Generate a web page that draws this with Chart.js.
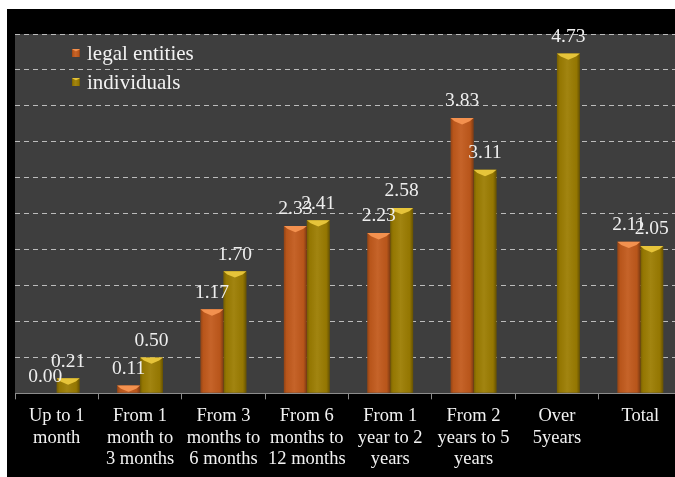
<!DOCTYPE html>
<html>
<head>
<meta charset="utf-8">
<script src="https://cdn.jsdelivr.net/npm/chart.js@4.4.0/dist/chart.umd.min.js"></script>
<style>
    html, body { margin: 0; padding: 0; background: #fff; overflow: hidden; }
    #wrap { position: absolute; left: 7px; top: 9px; width: 675px; height: 468px; background: #000; }
</style>
</head>
<body>
<div id="wrap"><canvas id="chart"></canvas></div>
<script>
// カテゴリと系列データ
const categories = [
    ['Up to 1', 'month'],
    ['From 1', 'month to', '3 months'],
    ['From 3', 'months to', '6 months'],
    ['From 6', 'months to', '12 months'],
    ['From 1', 'year to 2', 'years'],
    ['From 2', 'years to 5', 'years'],
    ['Over', '5years'],
    ['Total']
];
const legalEntities = [0.00, 0.11, 1.17, 2.33, 2.23, 3.83, null, 2.11];
const individuals = [0.21, 0.50, 1.70, 2.41, 2.58, 3.11, 4.73, 2.05];
const seriesNames = ['legal entities', 'individuals'];

const SERIF = "'Liberation Serif', 'Times New Roman', serif";
const colors = [
    { main: '#c25a1c', top: '#f3914f' },
    { main: '#9c7d02', top: '#e6c43a' }
];

// プロット領域の背景
const plotBackground = {
    id: 'plotBackground',
    beforeDraw(chart) {
        const { ctx, chartArea } = chart;
        ctx.save();
        ctx.fillStyle = '#3e3e3e';
        ctx.fillRect(chartArea.left, chartArea.top, chartArea.right - chartArea.left, chartArea.bottom - chartArea.top);
        ctx.restore();
    }
};

// バーに立体感をつける
function shadeBar(ctx, left, right, top, bottom, topColor) {
    const w = right - left;
    const g = ctx.createLinearGradient(left, 0, right, 0);
    g.addColorStop(0, 'rgba(0,0,0,0.25)');
    g.addColorStop(0.12, 'rgba(0,0,0,0.05)');
    g.addColorStop(0.45, 'rgba(255,255,255,0.06)');
    g.addColorStop(0.85, 'rgba(0,0,0,0.05)');
    g.addColorStop(1, 'rgba(0,0,0,0.35)');
    ctx.fillStyle = g;
    ctx.fillRect(left, top, w, bottom - top);
    if (bottom - top < 1) return;
    const bev = Math.min(w * 0.28, bottom - top);
    ctx.fillStyle = topColor;
    ctx.beginPath();
    ctx.moveTo(left, top);
    ctx.lineTo(right, top);
    ctx.lineTo(right - bev * 0.6, top + bev * 0.5);
    ctx.lineTo(left + w / 2, top + bev);
    ctx.lineTo(left + bev * 0.6, top + bev * 0.5);
    ctx.closePath();
    ctx.fill();
}

const barDecor = {
    id: 'barDecor',
    afterDatasetsDraw(chart) {
        const ctx = chart.ctx;
        ctx.save();
        chart.data.datasets.forEach((ds, i) => {
            chart.getDatasetMeta(i).data.forEach((bar, j) => {
                if (ds.data[j] === null) return;
                const half = bar.width / 2;
                shadeBar(ctx, bar.x - half, bar.x + half, bar.y, bar.base, colors[i].top);
            });
        });
        // 値ラベル
        ctx.fillStyle = '#eeeeee';
        ctx.font = '19.5px ' + SERIF;
        ctx.textAlign = 'center';
        ctx.textBaseline = 'bottom';
        chart.data.datasets.forEach((ds, i) => {
            chart.getDatasetMeta(i).data.forEach((bar, j) => {
                if (ds.data[j] === null) return;
                ctx.fillText(ds.data[j].toFixed(2), bar.x, bar.y - 7);
            });
        });
        ctx.restore();
    }
};

// 凡例（プロット内の左上）
const innerLegend = {
    id: 'innerLegend',
    afterDraw(chart) {
        const { ctx, chartArea } = chart;
        ctx.save();
        ctx.font = '21px ' + SERIF;
        ctx.textBaseline = 'middle';
        seriesNames.forEach((name, i) => {
            const y = chartArea.top + 19 + i * 29;
            const x = chartArea.left + 57;
            ctx.fillStyle = colors[i].main;
            ctx.fillRect(x, y - 4, 8, 8);
            shadeBar(ctx, x, x + 8, y - 4, y + 4, colors[i].top);
            ctx.fillStyle = '#f2f2f2';
            ctx.fillText(name, x + 15, y + 1);
        });
        ctx.restore();
    }
};

new Chart(document.getElementById('chart'), {
    type: 'bar',
    data: {
        labels: categories,
        datasets: [
            { label: seriesNames[0], data: legalEntities, backgroundColor: colors[0].main },
            { label: seriesNames[1], data: individuals, backgroundColor: colors[1].main }
        ]
    },
    options: {
        responsive: true,
        maintainAspectRatio: false,
        animation: false,
        categoryPercentage: 0.55,
        barPercentage: 1.0,
        layout: { padding: { left: 8, top: 25, right: 0, bottom: 1 } },
        plugins: {
            legend: { display: false },
            tooltip: { enabled: false }
        },
        scales: {
            x: {
                grid: { drawOnChartArea: false, drawTicks: true, tickLength: 6, color: '#8c8c8c' },
                border: { color: '#8c8c8c' },
                ticks: {
                    color: '#f2f2f2',
                    font: { family: SERIF, size: 18.5, lineHeight: 1.165 },
                    maxRotation: 0,
                    autoSkip: false,
                    padding: 6
                }
            },
            y: {
                min: 0,
                max: 5,
                ticks: { display: false, stepSize: 0.5 },
                grid: { color: 'rgba(220,220,220,0.8)', drawTicks: false },
                border: { display: false, dash: [5, 4] },
                afterFit(scale) { scale.width = 0; }
            }
        }
    },
    plugins: [plotBackground, barDecor, innerLegend]
});
</script>
</body>
</html>
